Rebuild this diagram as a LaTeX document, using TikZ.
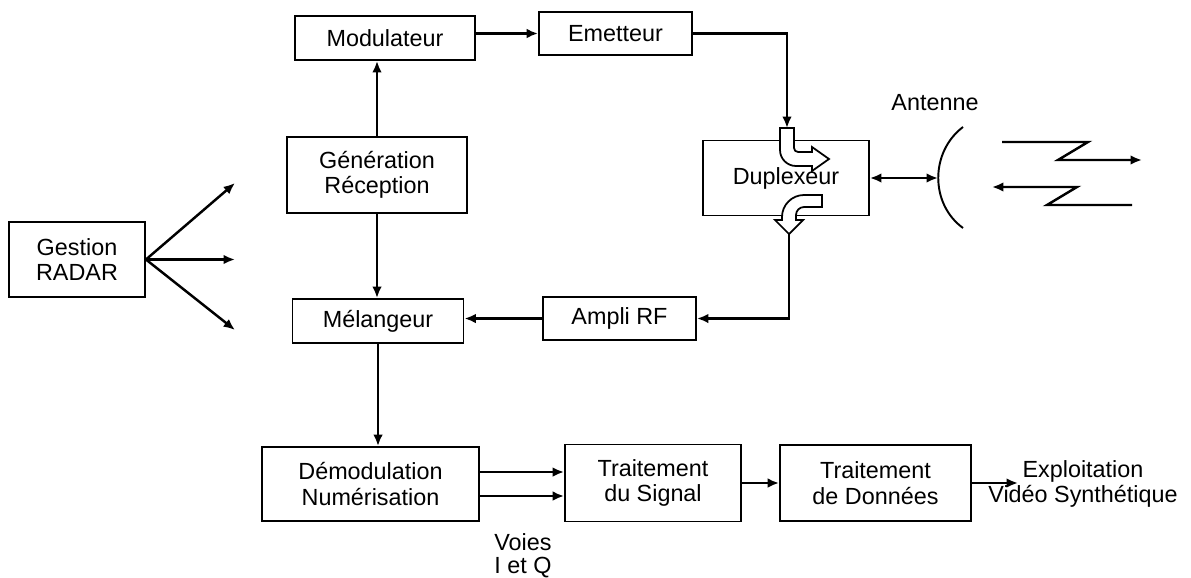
\documentclass[tikz,border=0pt]{standalone}
\usepackage{fontspec}
\setmainfont{Liberation Sans}
\usetikzlibrary{arrows.meta}

\begin{document}
\begin{tikzpicture}[x=0.02cm, y=-0.02cm, >={Latex[length=6.5pt,width=5.5pt]},
    font=\fontsize{13.3}{14.5}\selectfont,
    block/.style={draw, line width=1.1pt, align=center, inner sep=0pt},
    link/.style={line width=1.4pt},
    pipe/.style={draw, fill=white, line width=1pt}]
    \useasboundingbox (0,0) rectangle (1191,578);

    % Blocks
    \node[block, minimum width=2.72cm, minimum height=1.5cm] (gestion) at (77,259.5) {Gestion\\RADAR};
    \node[block, minimum width=3.6cm, minimum height=0.88cm] (modul) at (385,38) {Modulateur};
    \node[block, minimum width=3.06cm, minimum height=0.86cm] (emett) at (615.5,33.5) {Emetteur};
    \node[block, minimum width=3.6cm, minimum height=1.52cm] (gener) at (377,175) {Génération\\Réception};
    \node[block, minimum width=3.42cm, minimum height=0.88cm] (melang) at (378,321) {Mélangeur};
    \node[block, minimum width=3.06cm, minimum height=0.86cm] (amplirf) at (619.5,318.5) {Ampli RF};
    \node[block, minimum width=3.32cm, minimum height=1.5cm] (duplex) at (786,178) {Duplexeur};
    \node[block, minimum width=4.34cm, minimum height=1.48cm] (demod) at (370.5,484) {Démodulation\\Numérisation};
    \node[block, minimum width=3.52cm, minimum height=1.54cm] (tsignal) at (653,483) {Traitement\\du Signal};
    \node[block, minimum width=3.82cm, minimum height=1.52cm] (tdonnees) at (875.5,483) {Traitement\\de Données};

    % Labels
    \node[align=center] (exploit) at (1083,484) {Exploitation\\Vidéo Synthétique};
    \node[align=center, font=\fontsize{13.3}{13}\selectfont] (voies) at (523,556) {Voies\\I et Q};
    \node (antenne) at (935,103) {Antenne};

    % Free ends
    \coordinate (g1) at (235,183);
    \coordinate (g2) at (235,259.5);
    \coordinate (g3) at (235,330);
    \coordinate (dupin) at (787,128);
    \coordinate (dupout) at (789,234);
    \coordinate (dish) at (938,178);
    \coordinate (vsend) at (1018,483);

    % Gestion RADAR fan
    \draw[link,->] (gestion.east) -- (g1);
    \draw[link,->] (gestion.east) -- (g2);
    \draw[link,->] (gestion.east) -- (g3);

    % Emission / reception chain
    \draw[link,->] (gener.north) -- (gener.north |- modul.south);
    \draw[link,->] (gener.south) -- (gener.south |- melang.north);
    \draw[link,->] (modul.east |- emett) -- (emett.west);
    \draw[link,->] (emett.east) -| (dupin);
    \draw[link,->] (dupout) |- (amplirf.east);
    \draw[link,->] (amplirf.west) -- (amplirf.west -| melang.east);
    \draw[link,<->] (duplex.east) -- (dish);

    % Processing chain
    \draw[link,->] (melang.south) -- (melang.south |- demod.north);
    \draw[link,->] ([yshift=0.24cm]demod.east) -- ([yshift=0.24cm]demod.east -| tsignal.west);
    \draw[link,->] ([yshift=-0.24cm]demod.east) -- ([yshift=-0.24cm]demod.east -| tsignal.west);
    \draw[link,->] (tsignal.east) -- (tsignal.east -| tdonnees.west);
    \draw[link,->] (tdonnees.east) -- (vsend);

    % Duplexer pipes
    \draw[pipe] (780,128) -- (780,150) .. controls (780,158.8) and (787.2,166) .. (796,166) -- (812,166) -- (812,171) -- (829,159) -- (812,147) -- (812,152) -- (798,152) .. controls (795.8,152) and (794,150.2) .. (794,148) -- (794,128) -- cycle;
    \draw[pipe] (822,195) -- (804,195) .. controls (791.9,195) and (782,204.9) .. (782,217) -- (782,220) -- (775,220) -- (789,234) -- (803,220) -- (796,220) -- (796,215) .. controls (796,210.6) and (799.6,207) .. (804,207) -- (822,207) -- cycle;

    % Antenna dish and waves
    \draw[line width=1.1pt] (963,127) .. controls (930,152) and (930,204) .. (963,228);
    \draw[link,->] (1002,142) -- (1088,142) -- (1058,160) -- (1142,160);
    \draw[link,->] (1132,205) -- (1047,205) -- (1077,187) -- (992,187);
\end{tikzpicture}
\end{document}
